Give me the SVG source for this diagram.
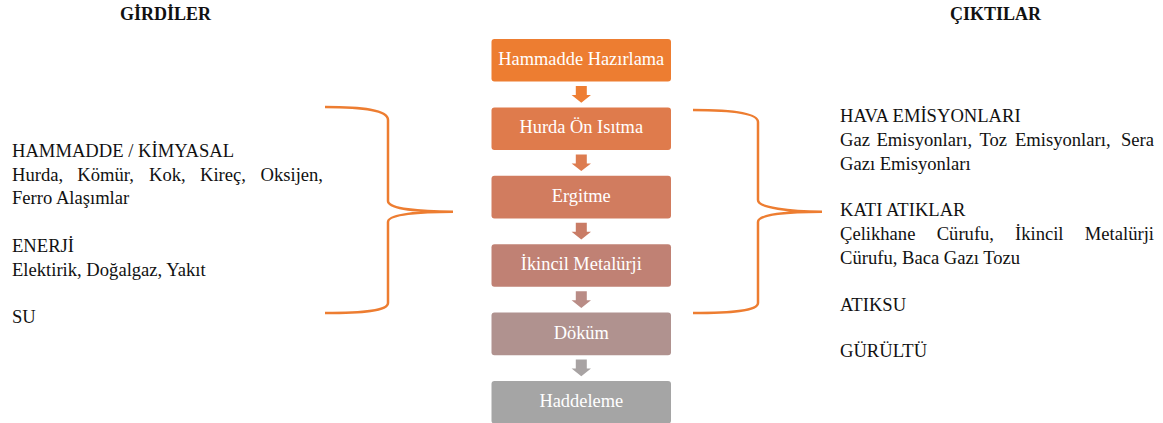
<svg xmlns="http://www.w3.org/2000/svg" width="1163" height="423" viewBox="0 0 1163 423">
<style>
.t{font-family:"Liberation Serif","Times New Roman",serif;font-size:18.6px;fill:#111}
.e{text-anchor:end}
.h{font-family:"Liberation Serif","Times New Roman",serif;font-size:18px;font-weight:bold;fill:#111}
.bt{font-family:"Liberation Serif","Times New Roman",serif;font-size:18.4px;fill:#fff;text-anchor:middle}
.br{fill:none;stroke:#ED7D31;stroke-width:2.5}
</style>
<defs>
<path id="arr" d="M-5.5,0 H5.5 V9 H9.7 L0,16.7 L-9.7,9 H-5.5 Z"/>
</defs>
<rect width="1163" height="423" fill="#fff"/>
<text class="h" x="120" y="20">GİRDİLER</text>
<text class="h" x="950" y="20">ÇIKTILAR</text>

<g id="n1"><rect x="491.5" y="39" width="179.5" height="42.6" rx="3" fill="#ED7D31"/><text class="bt" x="581.3" y="65">Hammadde Hazırlama</text></g>
<g id="n2"><rect x="491.5" y="107.4" width="179.5" height="42.6" rx="3" fill="#DF7B4C"/><text class="bt" x="581.3" y="133.4">Hurda Ön Isıtma</text></g>
<g id="n3"><rect x="491.5" y="175.8" width="179.5" height="42.6" rx="3" fill="#D17C5F"/><text class="bt" x="581.3" y="201.8">Ergitme</text></g>
<g id="n4"><rect x="491.5" y="244.2" width="179.5" height="42.6" rx="3" fill="#C08174"/><text class="bt" x="581.3" y="270.2">İkincil Metalürji</text></g>
<g id="n5"><rect x="491.5" y="312.6" width="179.5" height="42.6" rx="3" fill="#B0928F"/><text class="bt" x="581.3" y="338.6">Döküm</text></g>
<g id="n6"><rect x="491.5" y="381" width="179.5" height="42.6" rx="3" fill="#A5A5A5"/><text class="bt" x="581.3" y="407">Haddeleme</text></g>

<g id="connectors">
<use href="#arr" x="581.3" y="86" fill="#EE7E33"/>
<use href="#arr" x="581.3" y="154.4" fill="#DD7C50"/>
<use href="#arr" x="581.3" y="222.8" fill="#C97C66"/>
<use href="#arr" x="581.3" y="291.2" fill="#B98C86"/>
<use href="#arr" x="581.3" y="359.6" fill="#A8A3A3"/>
</g>

<g id="inputs">
<path class="br" d="M325,107 C362,107 388,110 388,120 L388,201 C388,209 420,211.7 453,211.7 C420,211.7 388,214 388,222 L388,303 C388,311 362,313 325,313"/>
<text class="t" x="12" y="157">HAMMADDE / KİMYASAL</text>
<text class="t" y="180.5"><tspan x="12">Hurda,</tspan><tspan x="77.3">Kömür,</tspan><tspan x="149">Kok,</tspan><tspan x="200">Kireç,</tspan><tspan x="323" class="e">Oksijen,</tspan></text>
<text class="t" x="12" y="204">Ferro Alaşımlar</text>
<text class="t" x="12" y="252">ENERJİ</text>
<text class="t" x="12" y="276">Elektirik, Doğalgaz, Yakıt</text>
<text class="t" x="12" y="323">SU</text>
</g>

<g id="outputs">
<path class="br" d="M693,110 C730,110 758,113 758,122 L758,200 C758,208 790,211.7 822,211.7 C790,211.7 758,214 758,222 L758,303 C758,311 730,313 693,313"/>
<text class="t" x="840" y="122">HAVA EMİSYONLARI</text>
<text class="t" y="146"><tspan x="840">Gaz</tspan><tspan x="876.5">Emisyonları,</tspan><tspan x="979.5">Toz</tspan><tspan x="1015">Emisyonları,</tspan><tspan x="1154" class="e">Sera</tspan></text>
<text class="t" x="840" y="169.5">Gazı Emisyonları</text>
<text class="t" x="840" y="216">KATI ATIKLAR</text>
<text class="t" y="240"><tspan x="840">Çelikhane</tspan><tspan x="936.7">Cürufu,</tspan><tspan x="1015">İkincil</tspan><tspan x="1154" class="e">Metalürji</tspan></text>
<text class="t" x="840" y="263.5">Cürufu, Baca Gazı Tozu</text>
<text class="t" x="840" y="310.7">ATIKSU</text>
<text class="t" x="840" y="357.3">GÜRÜLTÜ</text>
</g>
</svg>
